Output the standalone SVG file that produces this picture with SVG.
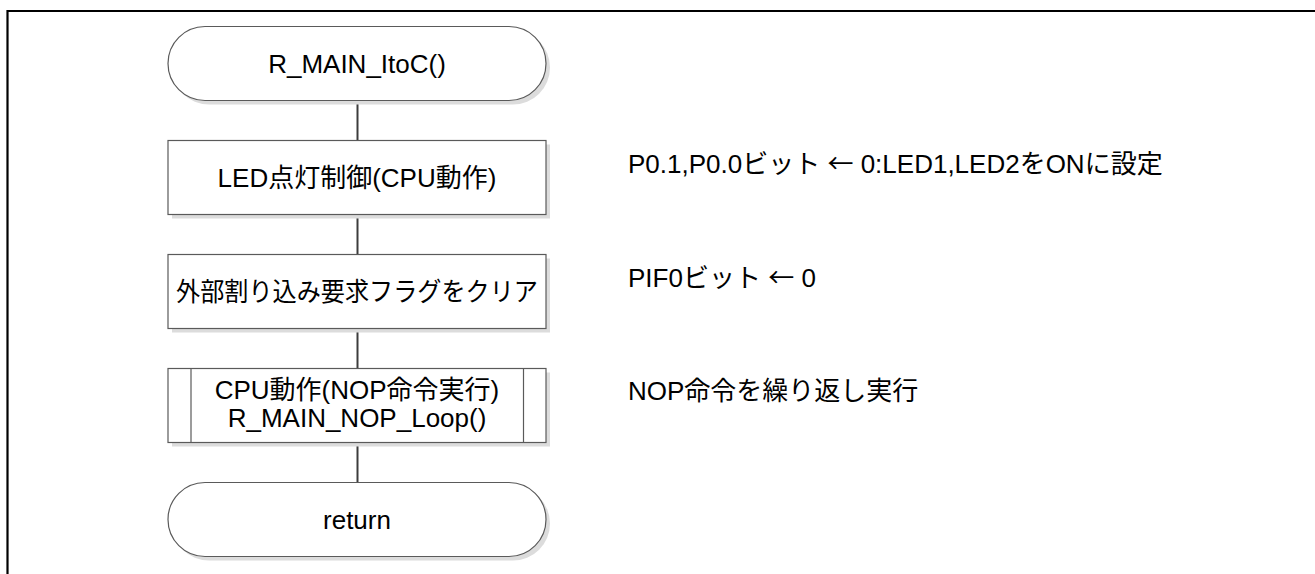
<svg xmlns="http://www.w3.org/2000/svg" width="1315" height="574" viewBox="0 0 1315 574">
<style>
.frame{fill:none;stroke:#000;stroke-width:2.2}
.shape{fill:#fff;stroke:#5a5a5a;stroke-width:1.2}
.shadow{fill:#dcdcdc}
.conn{fill:none;stroke:#3c3c3c;stroke-width:2}
text{font-family:"Liberation Sans","Noto Sans CJK JP",sans-serif;font-size:26px;fill:#000}
.c{text-anchor:middle}
.arr{font-family:"Noto Sans CJK JP",sans-serif}
</style>
<rect width="1315" height="574" fill="#fff"/>
<path class="frame" d="M7.5 574 V11 H1315"/>
<g id="connectors">
<line class="conn" x1="357.5" y1="100.5" x2="357.5" y2="140.5"/>
<line class="conn" x1="357.5" y1="214.5" x2="357.5" y2="254.5"/>
<line class="conn" x1="357.5" y1="328.5" x2="357.5" y2="368.5"/>
<line class="conn" x1="357.5" y1="442.5" x2="357.5" y2="482.5"/>
</g>
<g id="start">
<rect class="shadow" x="172" y="30.5" width="378" height="74" rx="37" ry="37"/>
<rect class="shape" x="168" y="26.5" width="378" height="74" rx="37" ry="37"/>
<text class="c" x="357" y="73">R_MAIN_ItoC()</text>
</g>
<g id="led">
<rect class="shadow" x="172" y="144.5" width="378" height="74"/>
<rect class="shape" x="168" y="140.5" width="378" height="74"/>
<text class="c" x="357" y="187">LED点灯制御(CPU動作)</text>
</g>
<g id="clear">
<rect class="shadow" x="172" y="258.5" width="378" height="74"/>
<rect class="shape" x="168" y="254.5" width="378" height="74"/>
<text class="c" x="357" y="301" textLength="362" lengthAdjust="spacingAndGlyphs">外部割り込み要求フラグをクリア</text>
</g>
<g id="nop">
<rect class="shadow" x="172" y="372.5" width="378" height="74"/>
<rect class="shape" x="168" y="368.5" width="378" height="74"/>
<line class="shape" x1="191" y1="368.5" x2="191" y2="442.5"/>
<line class="shape" x1="523.5" y1="368.5" x2="523.5" y2="442.5"/>
<text class="c" x="357" y="399">CPU動作(NOP命令実行)</text>
<text class="c" x="357" y="427">R_MAIN_NOP_Loop()</text>
</g>
<g id="return">
<rect class="shadow" x="172" y="486.5" width="378" height="74" rx="37" ry="37"/>
<rect class="shape" x="168" y="482.5" width="378" height="74" rx="37" ry="37"/>
<text class="c" x="357" y="529">return</text>
</g>
<g id="notes">
<text x="628" y="173">P0.1,P0.0ビット <tspan class="arr">←</tspan> 0:LED1,LED2をONに設定</text>
<text x="628" y="287">PIF0ビット <tspan class="arr">←</tspan> 0</text>
<text x="628" y="400">NOP命令を繰り返し実行</text>
</g>
</svg>
